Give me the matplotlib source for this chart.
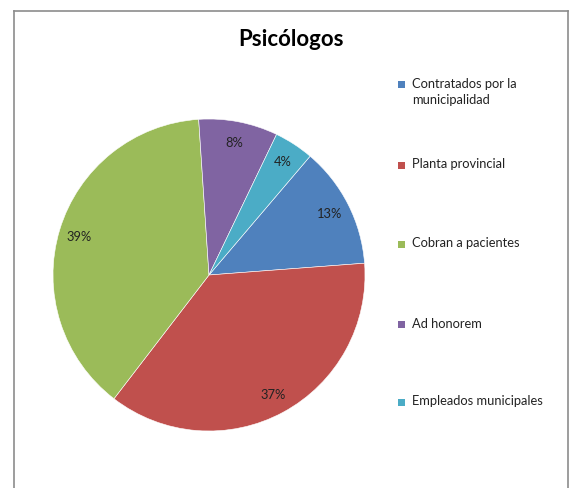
import matplotlib
matplotlib.use("Agg")
import matplotlib.pyplot as plt
from matplotlib.patches import Rectangle
from matplotlib.lines import Line2D

categories = ["Contratados por la\nmunicipalidad", "Planta provincial", "Cobran a pacientes",
              "Ad honorem", "Empleados municipales"]
values = [12.6, 36.7, 38.6, 8.2, 4.1]
colors = ["#4F81BD", "#C0504D", "#9BBB59", "#8064A2", "#4BACC6"]
title = "Psicólogos"

plt.rcParams['font.family'] = ['Lato', 'DejaVu Sans']

W, H = 569, 489
fig = plt.figure(figsize=(W / 100, H / 100), dpi=100)

# chart border (left, top, right)
bx0, by_top, bx1 = 13.5 / W, 1 - 11.5 / H, 567.5 / W
for xs, ys in [([bx0, bx0], [0, by_top]), ([bx0, bx1], [by_top, by_top]), ([bx1, bx1], [by_top, 0])]:
    fig.add_artist(Line2D(xs, ys, transform=fig.transFigure, color="#8c8c8c", lw=1.2))

ax = fig.add_axes([53 / W, 1 - 432 / H, 312 / W, 312 / H])
wedges, texts, autotexts = ax.pie(
    values, colors=colors, startangle=90 - 40.4, counterclock=False,
    autopct=lambda p: f"{p:.0f}%", pctdistance=0.87, radius=1,
    wedgeprops=dict(linewidth=0.4, edgecolor="white"),
    textprops=dict(fontsize=9.3, color="#222222"))
ax.set_xlim(-1, 1)
ax.set_ylim(-1, 1)
ax.set_aspect("equal")
ax.axis("off")

fig.text(291.5 / W, 1 - 40 / H, title, ha="center", va="center",
         fontsize=16, fontweight="bold", color="black")

# legend
leg_y = [85, 166, 245, 325, 403]
for lab, col, y in zip(categories, colors, leg_y):
    fig.add_artist(Rectangle((398 / W, 1 - (y + 3.5) / H), 7 / W, 7 / H,
                             transform=fig.transFigure, facecolor=col, edgecolor="none"))
    fig.text(412 / W, 1 - (y - 7.5) / H, lab, ha="left", va="top", fontsize=9.3,
             color="#222222", linespacing=1.4)

fig.savefig("out.png", dpi=100)
